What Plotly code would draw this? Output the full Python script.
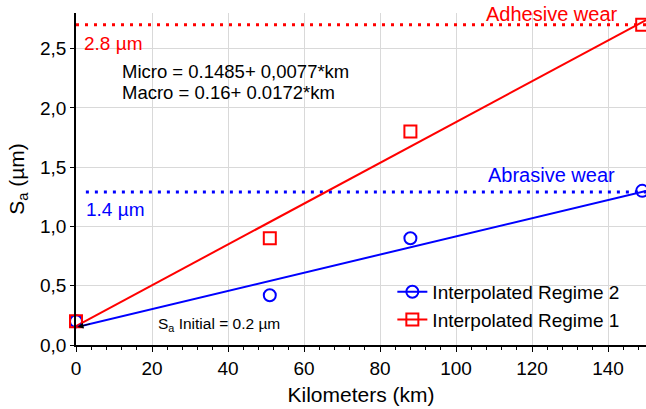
import plotly.graph_objects as go

# Data
km = [0, 51, 88, 149]
regime2 = [0.2, 0.42, 0.9, 1.3]   # blue circles
regime1 = [0.2, 0.9, 1.8, 2.7]    # red squares

fit_x = [0, 150]
fit_regime2 = [0.1485, 1.30]
fit_regime1 = [0.16, 2.74]

abrasive_level = 1.29
adhesive_level = 2.70

y_ticks = [0.0, 0.5, 1.0, 1.5, 2.0, 2.5]
y_ticklabels = ["0,0", "0,5", "1,0", "1,5", "2,0", "2,5"]
x_ticks = [0, 20, 40, 60, 80, 100, 120, 140]

BLUE = "#0000ff"
RED = "#ff0000"

fig = go.Figure()

# dotted wear levels
fig.add_trace(go.Scatter(x=[0, 150], y=[adhesive_level, adhesive_level], mode="lines",
                         line=dict(color=RED, width=3, dash="3px,6px"), showlegend=False,
                         hoverinfo="skip"))
fig.add_trace(go.Scatter(x=[2.6, 150], y=[abrasive_level, abrasive_level], mode="lines",
                         line=dict(color=BLUE, width=3, dash="3px,6px"), showlegend=False,
                         hoverinfo="skip"))

# fit lines
fig.add_trace(go.Scatter(x=fit_x, y=fit_regime2, mode="lines",
                         line=dict(color=BLUE, width=2), showlegend=False))
fig.add_trace(go.Scatter(x=fit_x, y=fit_regime1, mode="lines",
                         line=dict(color=RED, width=2), showlegend=False))

# points
fig.add_trace(go.Scatter(x=km, y=regime2, mode="markers", showlegend=False,
                         marker=dict(symbol="circle-open", size=12, color=BLUE,
                                     line=dict(width=2, color=BLUE)),
                         cliponaxis=False))
fig.add_trace(go.Scatter(x=km, y=regime1, mode="markers", showlegend=False,
                         marker=dict(symbol="square-open", size=12, color=RED,
                                     line=dict(width=2, color=RED)),
                         cliponaxis=False))

# legend entries
fig.add_trace(go.Scatter(x=[None], y=[None], mode="lines+markers", name="Interpolated Regime 2",
                         line=dict(color=BLUE, width=2),
                         marker=dict(symbol="circle-open", size=12, color=BLUE,
                                     line=dict(width=2, color=BLUE))))
fig.add_trace(go.Scatter(x=[None], y=[None], mode="lines+markers", name="Interpolated Regime 1",
                         line=dict(color=RED, width=2),
                         marker=dict(symbol="square-open", size=12, color=RED,
                                     line=dict(width=2, color=RED))))

font = "Liberation Sans, Arial, sans-serif"
ann = []
ann.append(dict(x=125.3, y=2.795, xref="x", yref="y", text="Adhesive wear", showarrow=False,
                font=dict(color=RED, size=20), yanchor="middle"))
ann.append(dict(x=1.6, y=2.542, xref="x", yref="y", text="2.8 µm", showarrow=False,
                font=dict(color=RED, size=19), xanchor="left", yanchor="middle"))
ann.append(dict(x=11.6, y=2.306, xref="x", yref="y", text="Micro = 0.1485+ 0,0077*km",
                showarrow=False, font=dict(color="black", size=18.5), xanchor="left",
                yanchor="middle"))
ann.append(dict(x=11.6, y=2.128, xref="x", yref="y", text="Macro = 0.16+ 0.0172*km",
                showarrow=False, font=dict(color="black", size=18.5), xanchor="left",
                yanchor="middle"))
ann.append(dict(x=125, y=1.436, xref="x", yref="y", text="Abrasive wear", showarrow=False,
                font=dict(color=BLUE, size=20), yanchor="middle"))
ann.append(dict(x=2.1, y=1.14, xref="x", yref="y", text="1.4 µm", showarrow=False,
                font=dict(color=BLUE, size=19), xanchor="left", yanchor="middle"))
ann.append(dict(x=21, y=0.177, xref="x", yref="y", text="S<sub>a</sub> Initial = 0.2 µm",
                showarrow=False, font=dict(color="black", size=15.5), xanchor="left",
                yanchor="middle"))
ann.append(dict(x=0.4, y=0.152, xref="x", yref="y", text="", showarrow=True,
                arrowhead=2, arrowsize=1.2, arrowwidth=1, arrowcolor="black",
                ax=14, ay=-3.4, standoff=0))

fig.update_layout(
    width=646, height=409,
    margin=dict(l=76, r=0, t=13, b=64),
    paper_bgcolor="white", plot_bgcolor="white",
    font=dict(family=font, size=19, color="black"),
    annotations=ann,
    showlegend=True,
    legend=dict(x=0.555, y=0.217, xanchor="left", yanchor="top",
                bgcolor="rgba(0,0,0,0)", font=dict(size=19), tracegroupgap=0,
                itemwidth=30),
    xaxis=dict(range=[0, 150], tickvals=x_ticks, showgrid=True, gridcolor="#d9d9d9",
               gridwidth=1, zeroline=False, showline=True, linecolor="black", linewidth=1.5,
               ticks="outside", ticklen=5, tickcolor="black",
               tickfont=dict(size=19),
               minor=dict(dtick=4, ticks="outside", ticklen=3, tickcolor="black", showgrid=False),
               title=dict(text="Kilometers (km)", font=dict(size=21), standoff=10)),
    yaxis=dict(range=[0, 2.8], tickvals=y_ticks, ticktext=y_ticklabels, showgrid=True,
               gridcolor="#d9d9d9", gridwidth=1, zeroline=False, showline=True,
               linecolor="black", linewidth=1.5, ticks="outside", ticklen=4, tickcolor="black",
               tickfont=dict(size=19),
               title=dict(text="S<sub>a</sub> (µm)", font=dict(size=21), standoff=10)),
)

fig.write_html("out.html", config={"displayModeBar": False},
               post_script="document.body.style.margin='0';document.body.style.overflow='hidden';")
